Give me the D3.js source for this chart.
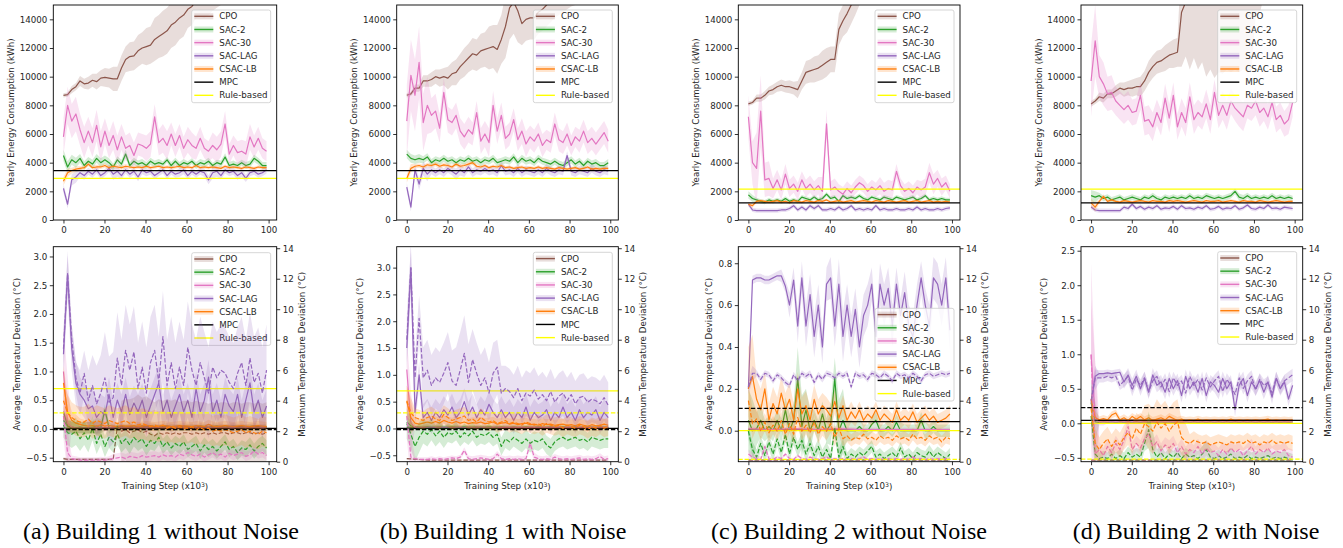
<!DOCTYPE html>
<html>
<head>
<meta charset="utf-8">
<script src="https://cdn.jsdelivr.net/npm/d3@7"></script>
<style>
  body { margin: 0; background: #fff; }
  svg text { font-family: "DejaVu Sans", sans-serif; }
</style>
</head>
<body>
<svg id="chart" width="1343" height="548"></svg>
<script>
// ---------- labels, ticks ----------
var algorithms = ["CPO", "SAC-2", "SAC-30", "SAC-LAG", "CSAC-LB"];
var legendNames = ["CPO", "SAC-2", "SAC-30", "SAC-LAG", "CSAC-LB", "MPC", "Rule-based"];
var palette = ["#8c564b", "#2ca02c", "#e377c2", "#9467bd", "#ff7f0e", "#000000", "#ffff00"];
var captions = ["(a) Building 1 without Noise", "(b) Building 1 with Noise",
                "(c) Building 2 without Noise", "(d) Building 2 with Noise"];
var xTicks = [0, 20, 40, 60, 80, 100];
var energyTicks = [0, 2000, 4000, 6000, 8000, 10000, 12000, 14000];
var maxDevTicks = [0, 2, 4, 6, 8, 10, 12, 14];
var avgDevTicks = [
  [-0.5, 0, 0.5, 1, 1.5, 2, 2.5, 3],
  [-0.5, 0, 0.5, 1, 1.5, 2, 2.5, 3],
  [0, 0.2, 0.4, 0.6, 0.8],
  [-0.5, 0, 0.5, 1, 1.5, 2, 2.5]
];

// ---------- baselines (MPC, rule-based) ----------
var mpcEnergy = [3450, 3450, 1200, 1200];
var ruleEnergy = [2900, 2900, 2150, 2150];
var mpcAvgDev = [0.01, 0.0, 0.043, 0.043];
var mpcMaxDev = [2.1, 2.1, 3.5, 3.55];
var ruleAvgDev = [0.7, 0.7, 0.0, 0.0];
var ruleMaxDev = [3.2, 3.2, 0.15, 0.17];

// ---------- yearly energy (kWh), every 2nd step, and band half widths ----------
var eA_cpo = [8700,8750,9100,9300,9700,9500,9550,9750,9650,9900,9950,9900,9850,9850,10600,11200,11400,11450,11800,12000,12100,12200,12600,12800,13000,13200,13600,13800,14100,14300,14700,14900,15300,15400,15300,15500,15800,16000,16200,16300,16500,16600,16800,16900,17000,17100,17200,17300,17400,17500];
var eA_cpo_sd = [150,250,350,450,550,650,850,900,1000,1100,1300,1500,1600,1600,1500,1300,1200,1200,1200,1200,1200,1200,1200,1200,1200];
var eA_sac2 = [4500,3700,4200,4000,4300,3800,4100,3900,4300,4000,4200,4000,3700,4200,3900,4600,3800,4100,3900,4000,3800,4100,3900,4000,3900,4200,3800,4100,3800,4000,3900,4100,3800,4000,3900,4100,3800,4000,3900,4400,3800,3900,3800,4000,3800,3900,4300,4100,3800,3800];
var eA_sac2_sd = [400,350,300,300,300,300,250,300,250,250,250,250,200,250,250,200,250,250,200,250,250,200,250,250,250];
var eA_sac30 = [5800,8000,6900,7400,6300,5400,6200,5400,6600,5100,6200,5200,5900,4900,5800,5000,5200,4500,5300,5200,5000,5300,7200,5400,5700,5200,6000,5200,5900,5000,5600,5200,5000,5700,5000,4800,5200,4900,5300,6700,4600,5200,4700,4800,4600,5800,5100,5700,5000,4800];
var eA_sac30_sd = [1300,1200,1100,1000,1100,900,1000,900,900,800,900,900,1000,800,800,900,800,700,900,900,700,800,900,800,700];
var eA_lag = [2200,1100,2800,3000,3300,3100,3400,3200,3500,3100,3300,3600,3200,3400,3100,3500,3200,3400,3000,3500,3300,3400,3100,3300,3500,3100,3400,3200,3300,3500,3100,3400,3200,3400,3300,2800,3300,3400,3100,3500,3300,3400,3100,3300,2900,3300,3400,3200,3300,3500];
var eA_lag_sd = [300,400,300,250,250,250,400,250,250,300,250,250,250,250,300,250,250,300,400,250,250,300,250,250,250];
var eA_csac = [2700,3300,3450,3550,3600,3650,3900,3650,3700,3700,3800,3650,3750,3700,3650,3750,3700,3650,3700,3650,3750,3650,3700,3750,3650,3700,3650,3700,3750,3650,3700,3650,3800,3650,3700,3650,3700,3650,3600,3750,3650,3700,3650,3600,3700,3650,3600,3700,3650,3650];
var eA_csac_sd = [300,200,150,150,150,150,150,150,120,120,120,120,120,120,120,120,120,120,120,120,120,120,120,120,120];

var eB_cpo = [8700,8800,9200,9200,9700,9700,9800,10000,9900,10000,9900,10200,10300,10700,11000,11300,11600,11500,11800,11900,12000,12100,11900,12600,13500,14800,15200,14600,13700,14000,14100,14100,14500,14700,15000,15300,15600,15800,16000,16200,16400,16500,16700,16800,17000,17100,17300,17400,17500,17600];
var eB_cpo_sd = [150,250,400,500,600,800,900,1000,1100,1200,1500,1700,2200,2200,1500,1500,1500,1500,1500,1500,1500,1500,1500,1500,1500];
var eB_sac2 = [4600,4300,4200,4300,4200,4400,4000,4200,4100,4300,4100,4200,4000,4200,4100,4300,4100,4200,4000,4200,4100,4300,4000,4100,4200,4100,4400,4000,4300,4100,4200,4000,4300,4100,4000,3900,4100,3900,3800,4000,4200,3900,4100,3800,4100,3900,4000,3800,3800,4000];
var eB_sac2_sd = [300,300,250,250,250,250,250,250,250,250,250,250,250,250,250,250,250,250,250,250,250,250,250,250,250];
var eB_sac30 = [6900,10100,8700,11000,6800,8000,7300,7600,6400,8900,7000,6800,7300,6200,5800,6300,6000,7500,5500,6000,5400,8000,6200,7300,5700,6000,7000,5600,6200,5300,5800,5500,6000,5200,5600,5400,6700,5600,5400,6000,5200,5800,5500,6200,5400,5700,5300,5700,6100,5500];
var eB_sac30_sd = [2500,2500,2000,1200,1000,900,900,900,800,900,1000,900,800,800,900,800,800,700,800,800,700,800,800,800,800];
var eB_lag = [2300,900,3500,2500,3600,3200,3500,3300,3500,3300,3600,3400,3200,3500,3300,3700,3300,3500,3400,3600,3400,3500,3300,3800,3400,3500,3300,3600,3300,3500,3400,3300,3500,3300,3600,3400,3300,3500,3400,4500,3400,3300,3500,3400,3300,3600,3400,3300,3500,3400];
var eB_lag_sd = [300,400,500,300,300,300,400,300,300,300,300,300,300,300,300,300,300,300,300,300,300,300,300,300,300];
var eB_csac = [2900,3600,3750,3800,3700,3850,3800,3900,3750,3850,3800,3700,3900,3750,3800,3900,4000,3750,3700,3800,3650,3750,3700,3800,3650,3700,3600,3650,3700,3600,3650,3600,3700,3600,3650,3600,3550,3650,3600,3550,3600,3650,3550,3600,3700,3550,3600,3550,3600,3600];
var eB_csac_sd = [300,150,150,150,150,150,150,150,150,120,120,120,120,120,120,120,120,120,120,120,120,120,120,120,120];

var eC_cpo = [8100,8200,8500,8500,8700,9000,9100,9300,9400,9300,9300,9200,9100,9700,10300,10400,10500,10600,10800,11000,11200,11200,13300,13900,14400,15000,15800,16500,17000,17500,18000,18400,18800,19000,19300,19600,19800,20000,20200,20400,20600,20800,21000,21200,21400,21600,21800,22000,22200,22400];
var eC_cpo_sd = [150,250,300,350,400,450,600,800,900,1000,900,1100,1300,1500,2000,2000,2000,2000,2000,2000,2000,2000,2000,2000,2000];
var eC_sac2 = [1750,1500,1400,1300,1250,1400,1300,1400,1300,1500,1300,1400,1300,1600,1500,1400,1600,1400,1500,1800,1500,1600,1300,1700,1500,1600,1500,1700,1500,1400,1600,1500,1400,1600,1500,1400,1600,1500,1400,1500,1600,1400,1500,1700,1400,1500,1400,1500,1400,1400];
var eC_sac2_sd = [250,150,150,150,150,150,150,150,150,150,150,150,150,150,150,150,150,150,150,150,150,150,150,150,150];
var eC_sac30 = [7200,4000,3600,7600,2800,2900,2200,2800,2100,3200,2200,2500,2000,2800,2200,2500,2100,2400,2000,6700,2100,2300,2000,1800,2200,1900,2300,2600,2400,2000,2300,2100,2400,2000,2200,2100,3400,2400,2000,2200,1900,2300,2100,2300,3300,2500,2900,2300,2600,2000];
var eC_sac30_sd = [1500,2500,1200,700,700,600,600,600,600,1000,600,500,500,500,500,500,600,600,500,500,500,600,700,600,500];
var eC_lag = [1100,700,650,650,650,650,650,650,700,700,800,1000,700,900,700,1000,800,1000,700,700,800,700,900,700,800,1000,700,800,700,800,700,1000,700,800,700,700,800,700,700,800,700,900,700,800,700,700,800,700,800,850];
var eC_lag_sd = [150,150,150,150,150,150,150,150,150,150,150,150,150,150,150,150,150,150,150,150,150,150,150,150,150];
var eC_csac = [1100,1000,1300,1350,1300,1250,1300,1350,1250,1300,1200,1350,1300,1250,1350,1300,1250,1350,1300,1400,1250,1300,1350,1250,1300,1350,1250,1300,1350,1300,1250,1350,1300,1250,1350,1300,1250,1300,1350,1250,1300,1350,1250,1300,1350,1250,1300,1250,1300,1250];
var eC_csac_sd = [150,100,100,100,100,100,100,100,100,100,100,100,100,100,100,100,100,100,100,100,100,100,100,100,100];

var eD_cpo = [8100,8300,8600,8500,8800,8800,9000,9200,9100,9200,9200,9300,9300,9700,10300,10700,11000,11100,11300,11500,11600,11700,14500,15200,16000,16800,17500,18000,18500,19000,19400,19800,20200,20500,20800,21000,21300,21500,21800,22000,22200,22400,22600,22800,23000,23200,23400,23600,23800,24000];
var eD_cpo_sd = [200,300,300,400,500,600,700,800,800,900,1000,3800,5500,7000,8500,9500,10000,10500,11000,11500,8000,7000,6000,5000,4000];
var eD_sac2 = [1700,1600,1700,1500,1600,1400,1500,1600,1400,1500,1600,1500,1400,1600,1500,1700,1500,1400,1600,1500,1600,1500,1600,1500,1700,1500,1600,1500,1700,1600,1500,1600,1500,1600,1700,2000,1600,1500,1700,1500,1600,1500,1600,1500,1700,1500,1600,1500,1600,1500];
var eD_sac2_sd = [400,200,200,200,200,200,200,200,200,200,200,200,200,200,200,200,200,200,250,200,200,200,200,200,200];
var eD_sac30 = [9700,12500,10000,9500,8800,8900,8300,8000,7700,8000,7500,7600,8700,6900,7000,6500,7500,6800,8500,7100,8700,6500,7500,6800,8600,7000,7500,7200,8100,7000,8900,7300,8000,7300,8300,7800,7500,7200,8000,7800,8300,7500,7800,7200,8200,7000,7300,6700,7000,8200];
var eD_sac30_sd = [2500,1500,1200,1000,1000,900,1000,1000,900,1000,900,1000,1000,900,1000,900,1000,900,1000,900,1000,900,900,900,1000];
var eD_lag = [900,700,650,650,650,650,650,650,900,800,1100,800,950,750,900,800,1000,750,850,800,950,750,1000,800,850,750,900,800,1000,750,800,950,750,850,800,1000,750,850,1050,800,750,900,800,1050,800,850,750,900,850,800];
var eD_lag_sd = [150,150,150,150,150,150,150,150,150,150,150,150,150,150,150,150,150,150,150,150,150,150,150,150,150];
var eD_csac = [1200,900,1300,1650,1300,1400,1300,1250,1350,1300,1250,1300,1350,1300,1250,1350,1300,1300,1250,1350,1300,1350,1300,1250,1300,1350,1300,1250,1350,1300,1300,1350,1250,1300,1350,1300,1250,1350,1300,1300,1250,1350,1300,1250,1300,1350,1300,1250,1300,1300];
var eD_csac_sd = [300,150,100,100,100,100,100,100,100,100,100,100,100,100,100,100,100,100,100,100,100,100,100,100,100];

// ---------- average temperature deviation (°C, left axis, solid) ----------
var tA_cpo = [0.3,0.05,0.03,0.02,0.02,0.02,0.02,0.02,0.02,0.02,0.02,0.02,0.03,0.03,0.04,0.03,0.04,0.03,0.04,0.05,0.04,0.05,0.04,0.03,0.04,0.05,0.04,0.03,0.04,0.05,0.04,0.04,0.03,0.05,0.04,0.03,0.04,0.05,0.04,0.03,0.04,0.05,0.04,0.04,0.03,0.04,0.05,0.04,0.03,0.04];
var tA_cpo_sd = [0.1,0.05,0.05,0.05,0.05];
var tA_sac2 = [0.15,0.05,0.02,0.02,0.03,0.02,0.02,0.03,0.05,0.02,0.33,0.02,0.02,0.02,0.01,0.02,0.02,0.01,0.02,0.02,0.01,0.02,0.02,0.01,0.02,0.02,0.01,0.02,0.02,0.01,0.02,0.02,0.01,0.02,0.02,0.01,0.02,0.02,0.01,0.02,0.02,0.01,0.02,0.02,0.01,0.02,0.02,0.01,0.02,0.02];
var tA_sac2_sd = [0.15,0.1,0.1,0.1,0.15,0.1,0.05,0.05,0.05,0.05,0.05,0.05,0.05,0.05,0.05,0.05,0.05,0.05,0.05,0.05,0.05,0.05,0.05,0.05,0.05];
var tA_sac30 = [1.0,0.1,0.03,0.02,0.02,0.02,0.02,0.02,0.02,0.02,0.02,0.02,0.02,0.02,0.02,0.02,0.02,0.02,0.02,0.02,0.02,0.02,0.02,0.02,0.02,0.02,0.02,0.02,0.02,0.02,0.02,0.02,0.02,0.02,0.02,0.02,0.02,0.02,0.02,0.02,0.02,0.02,0.02,0.02,0.02,0.02,0.02,0.02,0.02,0.02];
var tA_sac30_sd = [0.8,0.02,0.02,0.02,0.02,0.02,0.02,0.02,0.02,0.02,0.02,0.02,0.02,0.02,0.02,0.02,0.02,0.02,0.02,0.02,0.02,0.02,0.02,0.02,0.02];
var tA_lag = [1.3,2.7,1.4,0.8,0.6,0.5,0.35,0.4,0.2,0.3,0.25,0.6,0.2,0.5,0.3,0.6,0.25,0.45,0.3,0.5,0.2,0.4,0.6,0.8,0.3,0.5,0.2,0.4,0.6,0.3,0.5,0.2,0.7,0.3,0.5,0.9,0.3,0.5,0.2,0.6,0.4,0.3,0.6,0.2,0.5,0.8,0.3,0.5,0.2,0.4];
var tA_lag_sd = [0.4,0.4,0.3,0.3,0.3,0.3,0.3,0.3,0.3,0.3,0.3,0.3,0.3,0.3,0.3,0.3,0.3,0.3,0.3,0.3,0.3,0.3,0.3,0.3,0.3];
var tA_csac = [0.8,0.3,0.15,0.1,0.08,0.06,0.05,0.06,0.05,0.07,0.05,0.06,0.05,0.04,0.06,0.05,0.05,0.06,0.04,0.05,0.06,0.05,0.04,0.05,0.06,0.05,0.04,0.05,0.06,0.05,0.05,0.04,0.06,0.05,0.04,0.08,0.05,0.04,0.05,0.06,0.05,0.04,0.05,0.06,0.05,0.04,0.05,0.06,0.05,0.04];
var tA_csac_sd = [0.3,0.15,0.1,0.08,0.08,0.08,0.08,0.08,0.08,0.08,0.08,0.08,0.08,0.08,0.08,0.08,0.08,0.08,0.08,0.08,0.08,0.08,0.08,0.08,0.08];

var tB_cpo = [0.02,0.02,0.02,0.02,0.02,0.02,0.02,0.02,0.02,0.02];
var tB_cpo_sd = [0.03,0.03,0.03,0.03,0.03];
var tB_sac2 = [0.12,0.05,0.03,0.02,0.02,0.03,0.02,0.02,0.03,0.02,0.02,0.03,0.02,0.02,0.03,0.02,0.02,0.03,0.02,0.02,0.03,0.02,0.02,0.03,0.02,0.02,0.03,0.02,0.02,0.03,0.02,0.02,0.03,0.02,0.02,0.03,0.02,0.02,0.03,0.02,0.02,0.03,0.02,0.02,0.03,0.02,0.02,0.03,0.02,0.02];
var tB_sac2_sd = [0.1,0.05,0.05,0.04,0.04,0.04,0.04,0.04,0.04,0.04,0.04,0.04,0.04,0.04,0.04,0.04,0.04,0.04,0.04,0.04,0.04,0.04,0.04,0.04,0.04];
var tB_sac30 = [1.1,0.1,0.02,0.02,0.02,0.02,0.02,0.02,0.02,0.02,0.02,0.02,0.02,0.02,0.02,0.02,0.02,0.02,0.02,0.02,0.02,0.02,0.02,0.02,0.02,0.02,0.02,0.02,0.02,0.02,0.02,0.02,0.02,0.02,0.02,0.02,0.02,0.02,0.02,0.02,0.02,0.02,0.02,0.02,0.02,0.02,0.02,0.02,0.02,0.02];
var tB_sac30_sd = [0.6,0.02,0.02,0.02,0.02,0.02,0.02,0.02,0.02,0.02,0.02,0.02,0.02,0.02,0.02,0.02,0.02,0.02,0.02,0.02,0.02,0.02,0.02,0.02,0.02];
var tB_lag = [1.5,3.0,0.3,1.0,0.2,0.3,0.15,0.3,0.2,0.35,0.25,0.4,0.2,0.3,0.5,0.25,0.4,0.2,0.35,0.25,0.45,0.3,0.2,0.35,0.2,0.3,0.15,0.3,0.2,0.4,0.15,0.3,0.2,0.25,0.35,0.15,0.3,0.2,0.4,0.2,0.3,0.15,0.35,0.2,0.3,0.25,0.35,0.15,0.3,0.2];
var tB_lag_sd = [0.4,0.25,0.25,0.25,0.25,0.25,0.25,0.25,0.25,0.25,0.25,0.25,0.25,0.25,0.25,0.25,0.25,0.25,0.25,0.25,0.25,0.25,0.25,0.25,0.25];
var tB_csac = [0.5,0.2,0.1,0.08,0.1,0.12,0.1,0.13,0.1,0.15,0.12,0.1,0.13,0.1,0.12,0.09,0.11,0.1,0.12,0.09,0.1,0.12,0.08,0.1,0.11,0.08,0.1,0.07,0.09,0.1,0.07,0.08,0.06,0.09,0.07,0.08,0.06,0.07,0.08,0.06,0.07,0.05,0.08,0.06,0.04,0.07,0.05,0.06,0.08,0.06];
var tB_csac_sd = [0.3,0.1,0.1,0.1,0.1,0.1,0.1,0.1,0.1,0.1,0.1,0.1,0.1,0.1,0.1,0.1,0.1,0.1,0.1,0.1,0.1,0.1,0.1,0.1,0.1];

var tC_cpo = [0.005,0.005,0.005,0.005,0.005,0.005,0.005,0.005,0.005,0.005];
var tC_cpo_sd = [0.005,0.005,0.005,0.005,0.005];
var tC_sac2 = [0.05,0.0,0.01,0.05,0.0,0.02,0.0,0.05,0.0,0.1,0.0,0.05,0.25,0.02,0.1,0.0,0.05,0.0,0.08,0.0,0.03,0.25,0.0,0.05,0.0,0.0,0.0,0.02,0.0,0.0,0.03,0.05,0.0,0.0,0.02,0.0,0.04,0.0,0.0,0.0,0.0,0.0,0.05,0.0,0.0,0.02,0.0,0.0,0.0,0.0];
var tC_sac2_sd = [0.15,0.08,0.05,0.05,0.06,0.08,0.15,0.1,0.05,0.06,0.1,0.15,0.05,0.04,0.03,0.04,0.03,0.03,0.04,0.03,0.03,0.04,0.03,0.03,0.03];
var tC_sac30 = [0.01,0.005,0.01,0.005,0.01,0.005,0.005,0.005,0.005,0.005];
var tC_sac30_sd = [0.01,0.01,0.01,0.01,0.01];
var tC_lag = [0.2,0.72,0.73,0.73,0.72,0.72,0.73,0.74,0.74,0.69,0.6,0.72,0.5,0.73,0.5,0.65,0.45,0.6,0.4,0.7,0.73,0.5,0.7,0.45,0.6,0.45,0.58,0.4,0.55,0.6,0.7,0.45,0.7,0.6,0.68,0.5,0.7,0.55,0.66,0.5,0.45,0.6,0.73,0.6,0.5,0.73,0.7,0.6,0.73,0.48];
var tC_lag_sd = [0.02,0.02,0.02,0.02,0.03,0.06,0.08,0.1,0.1,0.08,0.1,0.12,0.1,0.1,0.1,0.08,0.1,0.1,0.08,0.1,0.1,0.08,0.1,0.1,0.1];
var tC_csac = [0.2,0.26,0.15,0.1,0.2,0.05,0.13,0.08,0.18,0.1,0.15,0.05,0.2,0.08,0.12,0.05,0.15,0.08,0.12,0.1,0.07,0.14,0.06,0.12,0.05,0.09,0.06,0.1,0.05,0.08,0.06,0.1,0.05,0.08,0.06,0.04,0.1,0.05,0.07,0.05,0.09,0.04,0.06,0.08,0.05,0.07,0.04,0.05,0.06,0.08];
var tC_csac_sd = [0.2,0.1,0.08,0.08,0.08,0.08,0.08,0.07,0.07,0.06,0.06,0.05,0.05,0.04,0.04,0.04,0.04,0.04,0.04,0.04,0.04,0.04,0.04,0.04,0.04];

var tD_cpo = [0.045,0.045,0.045,0.045,0.045,0.045,0.045,0.045,0.045,0.045];
var tD_cpo_sd = [0.01,0.01,0.01,0.01,0.01];
var tD_sac2 = [0.3,0.02,0.01,0.02,0.01,0.02,0.01,0.02,0.01,0.02,0.01,0.02,0.01,0.02,0.01,0.02,0.01,0.02,0.01,0.02,0.01,0.02,0.01,0.02,0.01,0.02,0.01,0.02,0.01,0.02,0.01,0.02,0.01,0.02,0.01,0.02,0.01,0.02,0.01,0.02,0.01,0.02,0.01,0.02,0.01,0.02,0.01,0.02,0.01,0.02];
var tD_sac2_sd = [0.3,0.02,0.02,0.02,0.02,0.02,0.02,0.02,0.02,0.02,0.02,0.02,0.02,0.02,0.02,0.02,0.02,0.02,0.02,0.02,0.02,0.02,0.02,0.02,0.02];
var tD_sac30 = [1.0,0.1,0.02,0.02,0.02,0.02,0.02,0.02,0.02,0.02,0.02,0.02,0.02,0.02,0.02,0.02,0.02,0.02,0.02,0.02,0.02,0.02,0.02,0.02,0.02,0.02,0.02,0.02,0.02,0.02,0.02,0.02,0.02,0.02,0.02,0.02,0.02,0.02,0.02,0.02,0.02,0.02,0.02,0.02,0.02,0.02,0.02,0.02,0.02,0.02];
var tD_sac30_sd = [0.8,0.05,0.02,0.02,0.02,0.02,0.02,0.02,0.02,0.02,0.02,0.02,0.02,0.02,0.02,0.02,0.02,0.02,0.02,0.02,0.02,0.02,0.02,0.02,0.02];
var tD_lag = [0.3,0.68,0.72,0.72,0.73,0.72,0.73,0.74,0.6,0.7,0.55,0.68,0.5,0.65,0.45,0.7,0.55,0.6,0.45,0.65,0.5,0.62,0.4,0.68,0.5,0.6,0.45,0.65,0.4,0.6,0.55,0.45,0.65,0.5,0.6,0.2,0.55,0.65,0.4,0.6,0.5,0.62,0.45,0.6,0.38,0.65,0.5,0.6,0.35,0.55];
var tD_lag_sd = [0.1,0.05,0.05,0.05,0.1,0.1,0.1,0.1,0.1,0.1,0.1,0.1,0.1,0.1,0.1,0.1,0.1,0.1,0.1,0.1,0.1,0.1,0.1,0.1,0.1];
var tD_csac = [0.35,0.08,0.05,0.07,0.05,0.12,0.15,0.05,0.08,0.04,0.1,0.06,0.1,0.05,0.08,0.04,0.06,0.08,0.05,0.1,0.07,0.04,0.06,0.04,0.05,0.04,0.06,0.04,0.05,0.04,0.05,0.04,0.05,0.04,0.06,0.04,0.05,0.04,0.05,0.04,0.05,0.04,0.05,0.06,0.04,0.05,0.04,0.05,0.04,0.05];
var tD_csac_sd = [0.1,0.05,0.05,0.05,0.05,0.05,0.05,0.05,0.05,0.05,0.05,0.05,0.05,0.05,0.05,0.05,0.05,0.05,0.05,0.05,0.05,0.05,0.05,0.05,0.05];

// ---------- maximum temperature deviation (°C, right axis, dashed) ----------
var mA_cpo = [0.2,0.15,0.15,0.15,0.15,0.15,0.15,0.15,0.15,0.15,0.15,0.15,0.15,2.3,2.0,2.1,1.9,2.0,2.1,1.9,2.0,1.8,1.7,1.9,1.8,1.9,1.8,1.9,1.8,1.9,1.9,1.8,1.9,1.8,1.9,1.8,1.9,1.8,1.9,1.9,1.8,1.9,1.9,1.8,1.9,1.9,1.8,1.9,1.8,1.9];
var mA_cpo_sd = [0.1,0.1,0.1,0.1,0.1,0.1,0.1,2.0,2.2,2.3,2.3,2.2,2.2,2.2,2.1,2.1,2.1,2.0,2.0,2.0,2.0,2.0,2.0,2.0,2.0];
var mA_sac2 = [2.4,1.9,1.8,2.0,1.5,1.9,1.4,2.2,1.2,1.8,1.0,1.6,1.3,1.8,1.2,1.5,1.1,1.6,1.3,1.5,1.0,1.4,1.2,1.6,1.0,1.3,0.9,1.2,1.0,1.3,0.8,1.0,1.2,0.7,1.1,0.8,1.0,0.7,1.0,1.3,0.8,1.0,0.6,0.9,0.8,1.1,0.7,1.0,1.2,0.9];
var mA_sac2_sd = [0.8,0.9,0.8,0.8,0.7,0.7,0.7,0.6,0.6,0.6,0.6,0.5,0.5,0.5,0.5,0.5,0.5,0.5,0.5,0.5,0.5,0.5,0.5,0.5,0.5];
var mA_sac30 = [3.0,0.6,0.2,0.15,0.1,0.1,0.1,0.1,0.1,0.12,0.1,0.15,0.2,0.25,0.3,0.2,0.35,0.3,0.25,0.4,0.3,0.35,0.4,0.3,0.45,0.35,0.4,0.3,0.5,0.4,0.6,0.45,0.35,0.5,0.3,0.45,0.6,0.4,0.5,0.3,0.55,0.4,0.5,0.6,0.35,0.45,0.7,0.5,0.6,0.4];
var mA_sac30_sd = [1.5,0.2,0.2,0.2,0.2,0.2,0.3,0.3,0.3,0.3,0.3,0.3,0.3,0.3,0.3,0.3,0.3,0.3,0.3,0.3,0.3,0.3,0.3,0.3,0.3];
var mA_lag = [7.4,12.3,8.0,5.5,4.5,5.8,4.0,5.0,3.8,4.5,5.5,3.9,4.2,6.8,5.0,7.3,6.0,7.2,4.8,6.2,4.5,6.5,7.3,5.2,8.2,5.0,6.5,4.8,6.2,5.0,7.5,6.0,5.0,6.5,5.5,4.5,6.2,5.5,6.0,5.8,5.2,4.8,5.8,6.5,5.0,6.8,5.2,5.8,4.5,6.0];
var mA_lag_sd = [1.2,1.0,1.5,2.0,2.5,3.0,3.0,3.0,3.0,3.0,3.0,3.0,3.0,3.0,3.0,3.0,3.0,3.0,3.0,3.0,3.0,3.0,3.0,3.0,3.0];
var mA_csac = [4.0,3.2,2.9,2.7,2.6,2.6,2.8,2.5,2.7,2.6,2.5,2.7,2.6,2.5,2.6,2.7,2.5,2.6,2.4,2.5,2.4,2.3,2.4,2.3,2.4,2.2,2.3,2.2,2.3,2.2,2.2,2.3,2.1,2.2,2.1,2.2,2.0,2.1,2.0,2.1,2.0,1.9,2.0,2.1,1.9,2.0,1.9,1.8,2.0,1.9];
var mA_csac_sd = [1.2,1.0,1.0,1.0,1.0,1.0,1.0,1.0,1.0,1.0,1.0,1.0,1.0,1.0,1.0,1.0,1.0,1.0,1.0,1.0,1.0,1.0,1.0,1.0,1.0];

var mB_cpo = [0.2,0.1,0.1,0.1,0.1,0.1,0.1,0.1,0.1,0.1];
var mB_cpo_sd = [0.05,0.05,0.05,0.05,0.05];
var mB_sac2 = [2.5,1.8,1.0,1.6,2.0,1.8,2.1,1.7,2.0,1.6,1.9,1.8,2.0,1.6,1.9,1.7,2.0,1.6,1.8,1.7,1.9,1.6,1.8,1.0,1.5,1.3,1.6,1.4,1.2,1.5,1.2,1.4,1.3,1.5,1.1,0.9,1.3,1.5,1.6,1.4,1.5,1.6,1.4,1.5,1.3,1.6,1.5,1.4,1.5,1.5];
var mB_sac2_sd = [1.0,1.0,0.8,0.7,0.7,0.6,0.6,0.6,0.6,0.6,0.6,0.6,0.6,0.6,0.6,0.6,0.6,0.6,0.6,0.6,0.6,0.6,0.6,0.6,0.6];
var mB_sac30 = [3.0,0.3,0.2,0.15,0.15,0.15,0.2,0.15,0.2,0.15,0.2,0.25,0.2,0.3,0.75,0.2,0.15,0.2,0.25,0.2,0.15,0.2,0.5,0.2,0.15,0.2,0.15,0.2,0.15,0.2,1.2,0.3,0.2,0.15,0.2,0.15,0.3,0.2,0.15,0.2,0.15,0.2,0.25,0.15,0.2,0.15,0.2,0.35,0.15,0.2];
var mB_sac30_sd = [1.5,0.15,0.15,0.15,0.15,0.15,0.15,0.2,0.2,0.2,0.2,0.2,0.2,0.2,0.2,0.3,0.2,0.2,0.2,0.2,0.2,0.2,0.2,0.2,0.2];
var mB_lag = [8.0,12.7,5.5,9.4,5.5,6.0,5.0,5.5,5.2,5.8,6.5,5.3,5.0,6.0,7.1,5.2,6.7,5.8,5.0,5.5,4.5,5.8,6.2,4.5,4.8,4.6,4.2,4.8,4.0,4.5,4.3,4.7,4.1,4.4,4.0,4.6,3.9,4.3,4.5,4.0,4.4,3.8,4.2,4.3,3.9,4.1,4.0,3.8,4.2,3.7];
var mB_lag_sd = [1.5,1.5,2.0,2.0,2.0,2.0,2.5,2.5,2.0,2.0,2.0,1.8,1.5,1.5,1.5,1.5,1.5,1.5,1.5,1.5,1.5,1.5,1.5,1.5,1.5];
var mB_csac = [4.0,3.2,2.9,2.8,2.7,2.9,3.0,2.8,2.7,3.1,2.9,2.7,2.8,2.9,3.0,2.7,2.8,2.6,2.9,2.7,2.6,2.7,2.5,2.6,2.7,2.5,2.6,2.5,2.4,2.6,2.5,2.4,2.5,2.3,2.5,2.4,2.3,2.4,2.2,2.4,2.3,2.2,2.4,2.3,2.1,2.3,2.2,2.4,2.2,2.3];
var mB_csac_sd = [1.0,0.6,0.6,0.6,0.6,0.6,0.6,0.6,0.6,0.6,0.6,0.6,0.6,0.6,0.6,0.6,0.6,0.6,0.6,0.6,0.6,0.6,0.6,0.6,0.6];

var mC_cpo = [0.1,0.1,0.1,0.1,0.1,0.1,0.1,0.1,0.1,0.1];
var mC_cpo_sd = [0.05,0.05,0.05,0.05,0.05];
var mC_sac2 = [2.0,0.8,0.3,1.2,0.4,1.3,0.5,1.5,0.6,1.8,0.5,1.6,0.8,1.4,0.5,1.2,0.4,1.0,0.3,0.8,0.2,2.2,0.3,1.0,0.2,0.5,0.3,0.6,0.4,0.7,1.0,0.3,0.5,0.2,0.4,0.6,0.3,0.9,0.3,0.5,0.2,0.6,0.4,0.3,0.7,0.3,0.6,0.4,0.2,0.5];
var mC_sac2_sd = [0.5,0.5,0.5,0.5,0.5,0.5,0.5,0.5,0.5,0.5,0.5,0.5,0.4,0.4,0.4,0.4,0.4,0.4,0.4,0.4,0.4,0.4,0.4,0.4,0.4];
var mC_sac30 = [0.5,0.3,0.2,0.15,1.0,0.2,0.15,0.3,0.2,0.5,0.2,0.15,0.4,0.2,0.15,0.3,0.2,0.15,0.2,0.3,0.15,0.2,0.15,0.2,0.15,0.2,0.15,0.2,0.3,0.15,0.2,0.15,0.2,0.15,0.2,0.15,0.2,0.15,0.2,0.15,0.3,0.15,0.2,0.15,0.2,0.15,0.2,0.15,0.2,0.15];
var mC_sac30_sd = [0.3,0.2,0.2,0.1,0.1,0.1,0.1,0.1,0.1,0.1,0.1,0.1,0.1,0.1,0.1,0.1,0.1,0.1,0.1,0.1,0.1,0.1,0.1,0.1,0.1];
var mC_lag = [4.9,5.8,5.8,5.4,5.8,5.7,5.3,5.7,5.5,5.2,5.0,5.7,5.3,5.8,5.6,5.8,5.2,5.7,5.4,5.8,5.7,5.5,5.8,5.6,5.8,4.9,5.8,5.6,5.7,5.4,5.8,5.7,5.5,5.8,5.6,5.3,5.8,5.6,5.7,5.5,5.8,5.6,5.3,5.7,5.8,5.6,5.7,5.8,5.7,5.8];
var mC_lag_sd = [0.5,0.2,0.2,0.2,0.2,0.2,0.2,0.2,0.2,0.2,0.2,0.2,0.2,0.2,0.2,0.2,0.2,0.2,0.2,0.2,0.2,0.2,0.2,0.2,0.2];
var mC_csac = [4.0,2.5,2.8,2.0,2.6,1.9,2.4,2.0,2.7,1.8,2.5,1.8,2.9,2.0,2.4,1.9,2.6,1.8,2.3,2.0,2.5,1.6,2.2,1.5,1.7,1.4,1.6,1.5,1.8,1.5,1.6,1.4,1.7,1.5,1.6,1.4,1.7,1.5,1.6,1.4,1.8,1.5,1.6,1.4,1.7,1.5,1.6,1.3,1.6,1.5];
var mC_csac_sd = [1.0,0.6,0.6,0.6,0.6,0.6,0.6,0.6,0.6,0.6,0.6,0.5,0.4,0.4,0.4,0.4,0.4,0.4,0.4,0.4,0.4,0.4,0.4,0.4,0.4];

var mD_cpo = [0.1,0.1,0.1,0.1,0.1,0.1,0.1,0.1,0.1,0.1];
var mD_cpo_sd = [0.05,0.05,0.05,0.05,0.05];
var mD_sac2 = [3.0,0.5,0.2,0.3,0.2,0.5,0.2,0.4,0.2,0.6,0.3,0.5,0.3,1.2,2.1,0.8,0.3,0.6,0.2,0.5,0.3,0.6,0.2,0.5,0.3,0.4,0.2,0.5,0.8,0.3,0.2,0.4,0.2,0.3,0.5,0.2,0.3,0.2,0.4,0.2,0.3,0.2,0.3,0.4,0.2,0.3,0.2,0.3,0.2,0.1];
var mD_sac2_sd = [1.0,0.4,0.4,0.4,0.4,0.4,0.5,1.2,0.5,0.4,0.4,0.4,0.4,0.5,0.6,0.4,0.4,0.4,0.4,0.4,0.4,0.4,0.4,0.4,0.4];
var mD_sac30 = [7.0,0.5,0.8,0.4,1.0,0.6,1.2,0.8,1.4,2.3,0.8,1.2,0.9,1.5,1.8,1.0,1.3,0.7,1.1,0.9,1.2,0.6,1.0,0.5,0.8,0.6,1.0,0.5,0.9,0.6,0.7,0.4,0.8,0.5,0.9,0.6,0.8,0.4,0.7,1.0,0.5,0.8,0.6,0.9,0.5,0.7,0.6,0.8,0.4,0.3];
var mD_sac30_sd = [6.0,0.5,0.5,0.5,0.5,0.5,0.5,0.5,0.5,0.5,0.5,0.5,0.5,0.5,0.5,0.5,0.5,0.5,0.5,0.5,0.5,0.5,0.5,0.5,0.5];
var mD_lag = [4.0,5.5,5.5,5.5,5.6,5.5,5.6,5.0,5.3,5.6,4.7,5.4,5.0,5.5,4.6,5.3,5.6,4.9,5.4,4.6,5.5,5.0,5.3,4.5,5.6,5.0,5.4,4.7,5.5,4.9,5.3,5.6,4.6,5.4,5.0,4.4,5.5,4.8,5.3,5.6,4.7,5.4,5.0,5.2,4.5,5.5,4.8,5.3,5.5,5.7];
var mD_lag_sd = [0.8,0.3,0.3,0.3,0.4,0.4,0.4,0.4,0.4,0.4,0.4,0.4,0.4,0.4,0.4,0.4,0.4,0.4,0.4,0.4,0.4,0.4,0.4,0.4,0.4];
var mD_csac = [3.5,1.2,0.8,1.2,1.5,1.0,1.4,1.1,1.6,1.9,1.5,2.2,1.8,2.5,2.3,2.0,2.6,2.2,2.5,2.0,2.4,2.6,1.6,1.3,1.2,1.4,1.3,1.2,1.3,1.1,1.2,1.3,1.2,1.1,1.3,1.2,1.3,1.2,1.4,1.2,1.3,1.1,1.3,1.2,1.4,1.2,1.3,1.2,1.3,1.2];
var mD_csac_sd = [1.0,0.8,0.8,0.8,0.8,1.0,1.2,1.5,1.5,1.5,1.5,1.2,0.6,0.5,0.5,0.5,0.5,0.5,0.5,0.5,0.5,0.5,0.5,0.5,0.5];

// ---------- tables built from the arrays above ----------
var energySets = [
  [[eA_cpo, eA_cpo_sd], [eA_sac2, eA_sac2_sd], [eA_sac30, eA_sac30_sd], [eA_lag, eA_lag_sd], [eA_csac, eA_csac_sd]],
  [[eB_cpo, eB_cpo_sd], [eB_sac2, eB_sac2_sd], [eB_sac30, eB_sac30_sd], [eB_lag, eB_lag_sd], [eB_csac, eB_csac_sd]],
  [[eC_cpo, eC_cpo_sd], [eC_sac2, eC_sac2_sd], [eC_sac30, eC_sac30_sd], [eC_lag, eC_lag_sd], [eC_csac, eC_csac_sd]],
  [[eD_cpo, eD_cpo_sd], [eD_sac2, eD_sac2_sd], [eD_sac30, eD_sac30_sd], [eD_lag, eD_lag_sd], [eD_csac, eD_csac_sd]]
];
var avgSets = [
  [[tA_cpo, tA_cpo_sd], [tA_sac2, tA_sac2_sd], [tA_sac30, tA_sac30_sd], [tA_lag, tA_lag_sd], [tA_csac, tA_csac_sd]],
  [[tB_cpo, tB_cpo_sd], [tB_sac2, tB_sac2_sd], [tB_sac30, tB_sac30_sd], [tB_lag, tB_lag_sd], [tB_csac, tB_csac_sd]],
  [[tC_cpo, tC_cpo_sd], [tC_sac2, tC_sac2_sd], [tC_sac30, tC_sac30_sd], [tC_lag, tC_lag_sd], [tC_csac, tC_csac_sd]],
  [[tD_cpo, tD_cpo_sd], [tD_sac2, tD_sac2_sd], [tD_sac30, tD_sac30_sd], [tD_lag, tD_lag_sd], [tD_csac, tD_csac_sd]]
];
var maxSets = [
  [[mA_cpo, mA_cpo_sd], [mA_sac2, mA_sac2_sd], [mA_sac30, mA_sac30_sd], [mA_lag, mA_lag_sd], [mA_csac, mA_csac_sd]],
  [[mB_cpo, mB_cpo_sd], [mB_sac2, mB_sac2_sd], [mB_sac30, mB_sac30_sd], [mB_lag, mB_lag_sd], [mB_csac, mB_csac_sd]],
  [[mC_cpo, mC_cpo_sd], [mC_sac2, mC_sac2_sd], [mC_sac30, mC_sac30_sd], [mC_lag, mC_lag_sd], [mC_csac, mC_csac_sd]],
  [[mD_cpo, mD_cpo_sd], [mD_sac2, mD_sac2_sd], [mD_sac30, mD_sac30_sd], [mD_lag, mD_lag_sd], [mD_csac, mD_csac_sd]]
];

// ---------- layout ----------
var colsX = [[53.3, 276.7], [396.7, 618.3], [738.3, 960], [1081, 1302.7]];
var topY = [5, 220], botY = [246.7, 461.7];
var xDomain = [-4.95, 103.95];
var energyDomain = [0, 15000];
var avgDomains = [[-0.57, 3.17], [-0.62, 3.39], [-0.148, 0.879], [-0.556, 2.558]];
var maxDomain = [0, 14.1];
var botLegendDy = [6, 5.6, 61.6, 5];
var FS = 8.7;
var LAST_STEP = 99;

var svg = d3.select("#chart");
var defs = svg.append("defs");

function points(mean, sd) {
  var n = mean.length;
  return mean.map(function(v, i) {
    var s = sd[Math.min(sd.length - 1, Math.floor(i * sd.length / n))];
    return { x: i * LAST_STEP / (n - 1), v: v, lo: v - s, hi: v + s };
  });
}

function drawSeries(g, x, y, mean, sd, color, dashed) {
  var pts = points(mean, sd);
  g.append("path").datum(pts)
    .attr("d", d3.area().x(function(d) { return x(d.x); })
      .y0(function(d) { return y(d.lo); }).y1(function(d) { return y(d.hi); }))
    .attr("fill", color).attr("fill-opacity", 0.2).attr("stroke", "none");
  g.append("path").datum(pts)
    .attr("d", d3.line().x(function(d) { return x(d.x); }).y(function(d) { return y(d.v); }))
    .attr("fill", "none").attr("stroke", color).attr("stroke-width", 1.2)
    .attr("stroke-linejoin", "round")
    .attr("stroke-dasharray", dashed ? "4.4,1.9" : null);
}

function hline(g, x, y, v, color, dashed) {
  g.append("line")
    .attr("x1", x.range()[0]).attr("x2", x.range()[1])
    .attr("y1", y(v)).attr("y2", y(v))
    .attr("stroke", color).attr("stroke-width", 1.3)
    .attr("stroke-dasharray", dashed ? "4.4,1.9" : null);
}

function clipGroup(id, x0, x1, y0, y1) {
  defs.append("clipPath").attr("id", id).append("rect")
    .attr("x", x0).attr("y", y0).attr("width", x1 - x0).attr("height", y1 - y0);
  return svg.append("g").attr("clip-path", "url(#" + id + ")");
}

function styleAxis(sel) {
  sel.attr("font-family", null).attr("font-size", null);
  sel.select(".domain").remove();
  sel.selectAll(".tick line").attr("stroke", "#000").attr("stroke-width", 0.8);
  sel.selectAll(".tick text").attr("fill", "#262626").style("font-size", FS + "px");
}

function spines(x0, x1, y0, y1) {
  svg.append("rect").attr("x", x0).attr("y", y0)
    .attr("width", x1 - x0).attr("height", y1 - y0)
    .attr("fill", "none").attr("stroke", "#000").attr("stroke-width", 0.9);
}

function yLabel(cx, cy, txt) {
  svg.append("text")
    .attr("transform", "translate(" + cx + "," + cy + ") rotate(-90)")
    .attr("text-anchor", "middle").attr("dy", "0.35em")
    .attr("fill", "#262626").style("font-size", FS + "px")
    .text(txt);
}

function legend(lx, ly) {
  var lg = svg.append("g");
  lg.append("rect").attr("x", lx).attr("y", ly).attr("width", 79).attr("height", 92.7)
    .attr("rx", 2).attr("fill", "#fff").attr("fill-opacity", 0.8)
    .attr("stroke", "#cccccc").attr("stroke-width", 0.8);
  legendNames.forEach(function(name, k) {
    var cy = ly + 6.3 + k * 13.17;
    if (k < algorithms.length) {
      lg.append("rect").attr("x", lx + 2.6).attr("y", cy - 3).attr("width", 19).attr("height", 6)
        .attr("fill", palette[k]).attr("fill-opacity", 0.2);
    }
    lg.append("line").attr("x1", lx + 2.6).attr("x2", lx + 21.6).attr("y1", cy).attr("y2", cy)
      .attr("stroke", palette[k]).attr("stroke-width", 1.4);
    lg.append("text").attr("x", lx + 27.6).attr("y", cy + 3.1)
      .attr("fill", "#262626").style("font-size", FS + "px").text(name);
  });
}

colsX.forEach(function(cx, k) {
  var x0 = cx[0], x1 = cx[1];
  var x = d3.scaleLinear().domain(xDomain).range([x0, x1]);

  // ----- top: yearly energy -----
  var yE = d3.scaleLinear().domain(energyDomain).range([topY[1], topY[0]]);
  var gT = clipGroup("clipT" + k, x0, x1, topY[0], topY[1]);
  energySets[k].forEach(function(s, j) { drawSeries(gT, x, yE, s[0], s[1], palette[j], false); });
  hline(gT, x, yE, mpcEnergy[k], palette[5], false);
  hline(gT, x, yE, ruleEnergy[k], palette[6], false);

  svg.append("g").attr("transform", "translate(0," + topY[1] + ")")
    .call(d3.axisBottom(x).tickValues(xTicks).tickSize(3.5).tickPadding(3.5)).call(styleAxis);
  svg.append("g").attr("transform", "translate(" + x0 + ",0)")
    .call(d3.axisLeft(yE).tickValues(energyTicks).tickSize(3.5).tickPadding(2.5).tickFormat(d3.format("d")))
    .call(styleAxis);
  spines(x0, x1, topY[0], topY[1]);
  yLabel(x0 - 42.5, (topY[0] + topY[1]) / 2, "Yearly Energy Consumption (kWh)");
  legend(x1 - 85, topY[0] + 5);

  // ----- bottom: temperature deviation, twin axes -----
  var yA = d3.scaleLinear().domain(avgDomains[k]).range([botY[1], botY[0]]);
  var yM = d3.scaleLinear().domain(maxDomain).range([botY[1], botY[0]]);
  var gB1 = clipGroup("clipB1" + k, x0, x1, botY[0], botY[1]);
  avgSets[k].forEach(function(s, j) { drawSeries(gB1, x, yA, s[0], s[1], palette[j], false); });
  hline(gB1, x, yA, mpcAvgDev[k], palette[5], false);
  hline(gB1, x, yA, ruleAvgDev[k], palette[6], false);

  legend(x1 - 85, botY[0] + botLegendDy[k]);

  var gB2 = clipGroup("clipB2" + k, x0, x1, botY[0], botY[1]);
  maxSets[k].forEach(function(s, j) { drawSeries(gB2, x, yM, s[0], s[1], palette[j], true); });
  hline(gB2, x, yM, mpcMaxDev[k], palette[5], true);
  hline(gB2, x, yM, ruleMaxDev[k], palette[6], true);

  svg.append("g").attr("transform", "translate(0," + botY[1] + ")")
    .call(d3.axisBottom(x).tickValues(xTicks).tickSize(3.5).tickPadding(3.5)).call(styleAxis);
  svg.append("g").attr("transform", "translate(" + x0 + ",0)")
    .call(d3.axisLeft(yA).tickValues(avgDevTicks[k]).tickSize(3.5).tickPadding(2.5).tickFormat(d3.format(".1f")))
    .call(styleAxis);
  svg.append("g").attr("transform", "translate(" + x1 + ",0)")
    .call(d3.axisRight(yM).tickValues(maxDevTicks).tickSize(3.5).tickPadding(2.5).tickFormat(d3.format("d")))
    .call(styleAxis);
  spines(x0, x1, botY[0], botY[1]);
  yLabel(x0 - (k === 2 ? 29 : 36.6), (botY[0] + botY[1]) / 2, "Average Temperatur Deviation (°C)");
  yLabel(x1 + 25, (botY[0] + botY[1]) / 2, "Maximum Temperature Deviation (°C)");

  var xl = svg.append("text").attr("x", (x0 + x1) / 2).attr("y", 489)
    .attr("text-anchor", "middle").attr("fill", "#262626").style("font-size", FS + "px");
  xl.append("tspan").text("Training Step (x10");
  xl.append("tspan").attr("dy", "-0.4em").style("font-size", "6.2px").text("3");
  xl.append("tspan").attr("dy", "0.4em").text(")");
});

// ----- sub captions -----
var captionX = [161, 503, 849, 1196];
captions.forEach(function(c, k) {
  svg.append("text").attr("x", captionX[k]).attr("y", 539)
    .attr("text-anchor", "middle")
    .style("font-family", "'Liberation Serif', 'Times New Roman', serif")
    .style("font-size", "24px").attr("fill", "#000")
    .text(c);
});
</script>
</body>
</html>
